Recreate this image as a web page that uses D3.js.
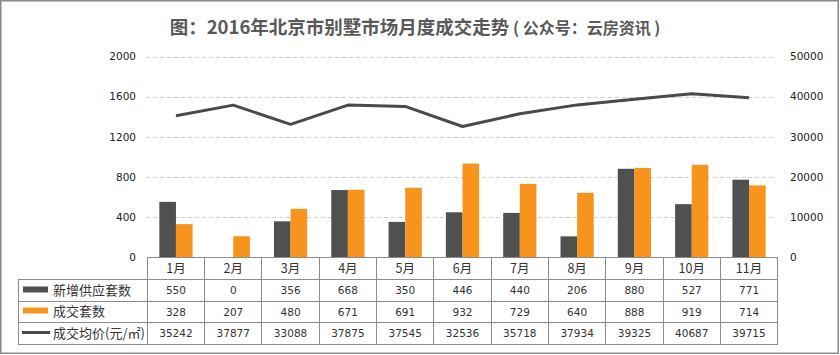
<!DOCTYPE html>
<html><head><meta charset="utf-8">
<script src="https://cdn.jsdelivr.net/npm/d3@7/dist/d3.min.js"></script>
<style>
body{margin:0;background:#fff;}
svg{display:block;}
</style></head>
<body>
<svg id="c" width="840" height="355"></svg>
<script>
const title = "图：2016年北京市别墅市场月度成交走势";
const subtitle = " ( 公众号：云房资讯 )";
const months = ["1月","2月","3月","4月","5月","6月","7月","8月","9月","10月","11月"];
const seriesNames = ["新增供应套数","成交套数","成交均价(元/㎡)"];
const supply = [550,0,356,668,350,446,440,206,880,527,771];
const deals = [328,207,480,671,691,932,729,640,888,919,714];
const price = [35242,37877,33088,37875,37545,32536,35718,37934,39325,40687,39715];
const leftTicks = [0,400,800,1200,1600,2000];
const rightTicks = [0,10000,20000,30000,40000,50000];

const colDark = "#505050", colOrange = "#f7941d", colLine = "#4a4a4a";
const gridCol = "#cfcfcf", tableCol = "#8c8c8c", textCol = "#333";
const numFont = "'DejaVu Sans', Verdana, sans-serif";
const cjkFont = "'Noto Sans CJK SC', sans-serif";

const svg = d3.select("#c");
const X0 = 147.3, X1 = 777.7, Ytop = 56.5, Ybot = 257;

// outer frame
svg.append("rect").attr("x",0.75).attr("y",0.75).attr("width",837.5).attr("height",352.5)
  .attr("fill","none").attr("stroke","#8a8a8a").attr("stroke-width",1.5);

// title
const t = svg.append("text").attr("x",415).attr("y",34).attr("text-anchor","middle")
  .attr("fill","#595959").style("font-family",cjkFont);
t.append("tspan").text(title).style("font-size","18.5px").style("font-weight","bold");
t.append("tspan").text(subtitle).style("font-size","16px").style("font-weight","bold");

const x = d3.scaleBand().domain(months).range([X0, X1]).padding(0);
const bw = x.bandwidth()*0.29;
const xs = d3.scaleBand().domain(["s","d"]).range([(x.bandwidth()-2*bw)/2, (x.bandwidth()+2*bw)/2]);
const yL = d3.scaleLinear().domain([0,2000]).range([Ybot, Ytop]);
const yR = d3.scaleLinear().domain([0,50000]).range([Ybot, Ytop]);

// gridlines
svg.append("g").selectAll("line").data(leftTicks.filter(d=>d>0)).join("line")
  .attr("x1",146).attr("x2",776).attr("y1",d=>Math.round(yL(d))+0.5).attr("y2",d=>Math.round(yL(d))+0.5)
  .attr("stroke",gridCol).attr("stroke-dasharray","4,3");

// axes
const aL = svg.append("g").attr("transform","translate(140,0)")
  .call(d3.axisLeft(yL).tickValues(leftTicks).tickFormat(d3.format("d")).tickSize(0).tickPadding(4));
const aR = svg.append("g").attr("transform","translate(787,0)")
  .call(d3.axisRight(yR).tickValues(rightTicks).tickFormat(d3.format("d")).tickSize(0).tickPadding(3));
[aL,aR].forEach(a=>{
  a.select(".domain").remove();
  a.selectAll("text").style("font-family",numFont).style("font-size","10.5px").attr("fill","#222");
});

// bars
const g = svg.append("g");
g.selectAll("rect.s").data(months).join("rect").attr("class","s")
  .attr("x",(d)=>x(d)+xs("s")).attr("width",xs.bandwidth())
  .attr("y",(d,i)=>yL(supply[i])).attr("height",(d,i)=>Ybot-yL(supply[i])).attr("fill",colDark);
g.selectAll("rect.d").data(months).join("rect").attr("class","d")
  .attr("x",(d)=>x(d)+xs("d")).attr("width",xs.bandwidth())
  .attr("y",(d,i)=>yL(deals[i])).attr("height",(d,i)=>Ybot-yL(deals[i])).attr("fill",colOrange);

// line
const line = d3.line().x((d,i)=>x(months[i])+x.bandwidth()/2).y(d=>yR(d));
svg.append("path").datum(price).attr("d",line).attr("fill","none")
  .attr("stroke",colLine).attr("stroke-width",3).attr("stroke-linejoin","round");

// table
const rowY = [257, 279, 301, 322.5, 344];
const TL = 18;
const tb = svg.append("g").attr("stroke",tableCol).attr("stroke-width",1).attr("shape-rendering","crispEdges");
tb.append("line").attr("x1",X0).attr("x2",X1).attr("y1",rowY[0]).attr("y2",rowY[0]);
for (let r=1;r<rowY.length;r++) tb.append("line").attr("x1",TL).attr("x2",X1).attr("y1",rowY[r]).attr("y2",rowY[r]);
tb.append("line").attr("x1",TL).attr("x2",TL).attr("y1",rowY[1]).attr("y2",rowY[4]);
const bounds = months.map(m=>x(m)).concat([X1]);
tb.selectAll("line.v").data(bounds).join("line").attr("class","v")
  .attr("x1",d=>d).attr("x2",d=>d).attr("y1",rowY[0]).attr("y2",rowY[4]);

// header texts
svg.append("g").selectAll("text").data(months).join("text")
  .attr("x",d=>x(d)+x.bandwidth()/2).attr("y",(rowY[0]+rowY[1])/2+4.5)
  .attr("text-anchor","middle").style("font-family",cjkFont).style("font-size","12.5px")
  .attr("fill",textCol).text(d=>d);

const rows = [supply, deals, price];
rows.forEach((vals,r)=>{
  const cy = (rowY[r+1]+rowY[r+2])/2;
  svg.append("g").selectAll("text").data(vals).join("text")
    .attr("x",(d,i)=>x(months[i])+x.bandwidth()/2).attr("y",cy+4)
    .attr("text-anchor","middle").style("font-family",numFont).style("font-size","10.5px")
    .attr("fill",textCol).text(d=>d);
  svg.append("text").attr("x",53).attr("y",cy+4.5).style("font-family",cjkFont).style("font-size","13px")
    .attr("fill",textCol).text(seriesNames[r]);
});
// legend keys
svg.append("rect").attr("x",23).attr("y",286.5).attr("width",25).attr("height",6).attr("fill",colDark);
svg.append("rect").attr("x",23).attr("y",307.5).attr("width",25).attr("height",6).attr("fill",colOrange);
svg.append("line").attr("x1",22).attr("x2",50).attr("y1",332.5).attr("y2",332.5)
  .attr("stroke",colLine).attr("stroke-width",3);
</script>
</body></html>
